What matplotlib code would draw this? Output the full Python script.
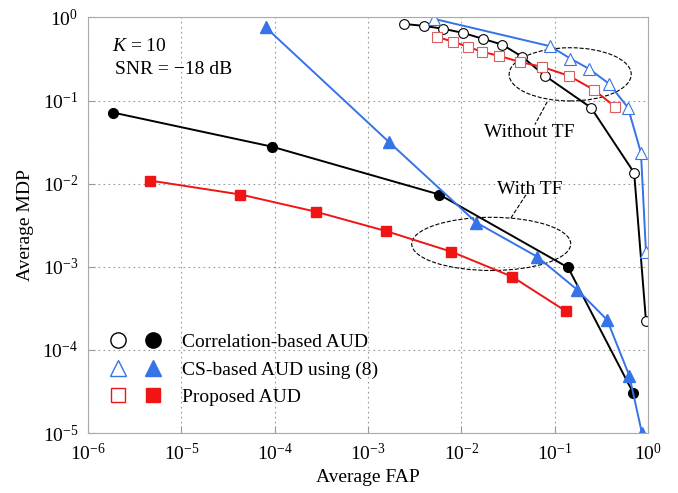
import numpy as np
import matplotlib
matplotlib.use("Agg")
import matplotlib.pyplot as plt
from matplotlib.patches import Ellipse
from matplotlib.legend_handler import HandlerTuple
from matplotlib.lines import Line2D
from matplotlib.ticker import FuncFormatter, LogLocator, NullLocator

# ---- data ----
# with TF (filled markers)
corr_tf_fap = [1.85e-6, 9.3e-5, 5.8e-3, 0.139, 0.69]
corr_tf_mdp = [0.0717, 0.0279, 7.4e-3, 9.8e-4, 3.07e-5]

cs_tf_fap = [8.0e-5, 1.66e-3, 0.0145, 0.065, 0.174, 0.364, 0.63, 0.86]
cs_tf_mdp = [0.76, 0.032, 3.4e-3, 1.32e-3, 5.3e-4, 2.3e-4, 4.9e-5, 1.0e-5]

prop_tf_fap = [4.6e-6, 4.3e-5, 2.75e-4, 1.54e-3, 7.8e-3, 0.035, 0.133]
prop_tf_mdp = [0.0109, 7.4e-3, 4.6e-3, 2.7e-3, 1.52e-3, 7.6e-4, 2.9e-4]

# without TF (open markers)
corr_fap = [2.4e-3, 4.0e-3, 6.4e-3, 0.0105, 0.0172, 0.0275, 0.045, 0.079, 0.245, 0.71, 0.95]
corr_mdp = [0.835, 0.79, 0.73, 0.65, 0.55, 0.47, 0.335, 0.198, 0.082, 0.0135, 2.25e-4]

cs_fap = [5.1e-3, 0.0895, 0.147, 0.234, 0.383, 0.61, 0.84, 0.95]
cs_mdp = [0.96, 0.45, 0.32, 0.24, 0.159, 0.082, 0.0235, 1.52e-3]

prop_fap = [5.5e-3, 8.2e-3, 0.0119, 0.0168, 0.0255, 0.0428, 0.0734, 0.143, 0.264, 0.444]
prop_mdp = [0.58, 0.51, 0.44, 0.385, 0.344, 0.29, 0.254, 0.198, 0.134, 0.084]

labels = ["Correlation-based AUD", "CS-based AUD using (8)", "Proposed AUD"]

black = "black"
blue = "#3672e8"
red = "#f01414"

plt.rcParams["font.family"] = "Liberation Serif"
plt.rcParams["mathtext.fontset"] = "custom"
plt.rcParams["mathtext.rm"] = "Liberation Serif"
plt.rcParams["mathtext.it"] = "Liberation Serif:italic"
plt.rcParams["axes.unicode_minus"] = False

fig = plt.figure(figsize=(6.78, 4.93), dpi=100)
ax = fig.add_axes([0.1298, 0.1217, 0.826, 0.843])

lw = 1.4
ms = 7
# without TF
ax.plot(corr_fap, corr_mdp, "-o", color=black, lw=lw, ms=ms, mfc="white", mec=black, mew=0.8)
ax.plot(cs_fap, cs_mdp, "-^", color=blue, lw=lw, ms=ms + 1, mfc="white", mec=blue, mew=0.8)
ax.plot(prop_fap, prop_mdp, "-s", color=red, lw=lw, ms=ms, mfc="white", mec="#d86060", mew=0.8)
# with TF
ax.plot(corr_tf_fap, corr_tf_mdp, "-o", color=black, lw=lw, ms=ms)
ax.plot(cs_tf_fap, cs_tf_mdp, "-^", color=blue, lw=lw, ms=ms + 1)
ax.plot(prop_tf_fap, prop_tf_mdp, "-s", color=red, lw=lw, ms=ms)

ax.set_xscale("log")
ax.set_yscale("log")
ax.set_xlim(1e-6, 1)
ax.set_ylim(1e-5, 1)
ax.xaxis.set_major_locator(LogLocator(base=10, numticks=10))
ax.yaxis.set_major_locator(LogLocator(base=10, numticks=10))
ax.xaxis.set_minor_locator(NullLocator())
ax.yaxis.set_minor_locator(NullLocator())
fmt = FuncFormatter(lambda v, _: r"$\mathregular{10^{%d}}$" % int(round(np.log10(v))))
ax.xaxis.set_major_formatter(fmt)
ax.yaxis.set_major_formatter(fmt)
ax.tick_params(direction="in", length=5, color="#999999", labelsize=14, pad=7)
for s in ax.spines.values():
    s.set_color("#aaaaaa")
ax.grid(True, ls=(0, (1.5, 3)), color="#999999", lw=0.8)
ax.set_axisbelow(True)

ax.set_xlabel("Average FAP", fontsize=14, labelpad=4)
ax.set_ylabel("Average MDP", fontsize=14, labelpad=6)

ax.text(0.043, 0.931, r"$K$ = 10", transform=ax.transAxes, fontsize=14, va="center")
ax.text(0.048, 0.874, "SNR = \u221218 dB", transform=ax.transAxes, fontsize=14, va="center")

# annotation ellipses
ax.add_patch(Ellipse((0.861, 0.863), 0.218, 0.128, transform=ax.transAxes,
                     fill=False, ls="--", lw=0.8, ec="black"))
ax.add_patch(Ellipse((0.72, 0.455), 0.284, 0.128, transform=ax.transAxes,
                     fill=False, ls="--", lw=0.8, ec="black"))
ax.plot([0.820, 0.798], [0.797, 0.742], transform=ax.transAxes, ls="--", lw=0.8, color="black")
ax.plot([0.782, 0.754], [0.573, 0.515], transform=ax.transAxes, ls="--", lw=0.8, color="black")
ax.text(0.7875, 0.722, "Without TF", transform=ax.transAxes, fontsize=14, ha="center", va="center")
ax.text(0.789, 0.587, "With TF", transform=ax.transAxes, fontsize=14, ha="center", va="center")

# legend: open + filled marker pairs
lms = 11
handles = [
    (Line2D([], [], ls="", marker="o", ms=lms, mfc="white", mec=black, mew=1.0),
     Line2D([], [], ls="", marker="o", ms=lms, color=black)),
    (Line2D([], [], ls="", marker="^", ms=lms + 1, mfc="white", mec=blue, mew=1.0),
     Line2D([], [], ls="", marker="^", ms=lms + 1, color=blue)),
    (Line2D([], [], ls="", marker="s", ms=lms - 1, mfc="white", mec=red, mew=1.0),
     Line2D([], [], ls="", marker="s", ms=lms - 1, color=red)),
]
ax.legend(handles, labels, handler_map={tuple: HandlerTuple(ndivide=None, pad=0.62)},
          loc="lower left", bbox_to_anchor=(0.033, 0.065), frameon=False, fontsize=14,
          handlelength=3.0, handletextpad=0.9, labelspacing=0.5, borderpad=0, borderaxespad=0)

fig.savefig("out.png", dpi=100)
